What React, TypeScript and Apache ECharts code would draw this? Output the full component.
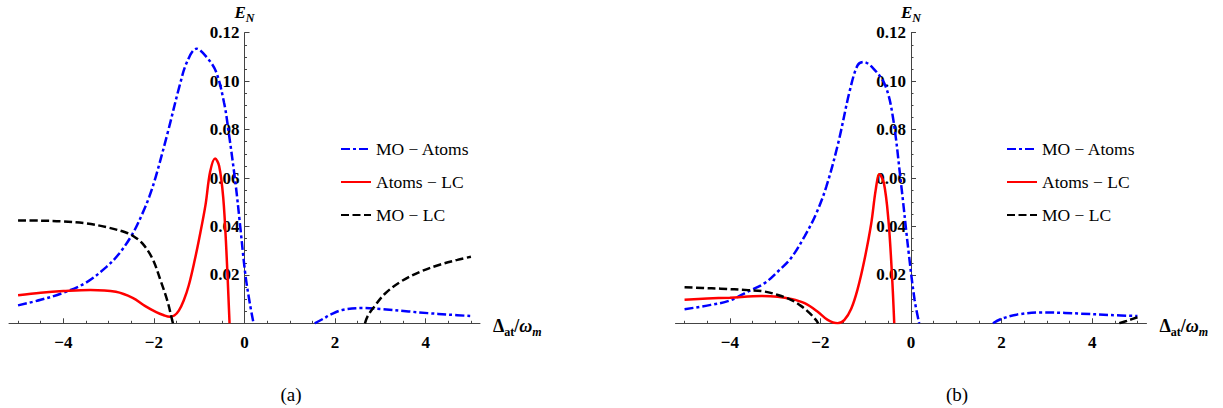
import React, { useEffect, useRef } from "react";
import * as echarts from "echarts";

// ---- tick values ----
const xMajorTicks = [-4, -2, 0, 2, 4];
const xMinorTicks = [-5, -4.5, -3.5, -3, -2.5, -1.5, -1, -0.5, 0.5, 1, 1.5, 2.5, 3, 3.5, 4.5, 5];
const yMin = 0;
const yMax = 0.12;
const yStep = 0.02;

// ---- legend names ----
const seriesNames = ["MO \u2212 Atoms", "Atoms \u2212 LC", "MO \u2212 LC"];

// ---- panel (a) data: [Δat/ωm, E_N] ----
const aMoAtomsLeft = [
  [-5, 0.0074], [-4.5, 0.0097], [-4.0, 0.0126], [-3.5, 0.0168], [-3.06, 0.0231], [-2.77, 0.0287],
  [-2.47, 0.037], [-2.25, 0.0455], [-2.1, 0.0524], [-1.96, 0.0605], [-1.7, 0.0784], [-1.44, 0.0976],
  [-1.27, 0.1079], [-1.06, 0.1134], [-0.84, 0.110], [-0.63, 0.104], [-0.45, 0.091], [-0.35, 0.079],
  [-0.2, 0.058], [-0.1, 0.041], [0.02, 0.02], [0.12, 0.008], [0.2, 0],
];
const aMoAtomsRight = [
  [1.55, 0], [1.75, 0.002], [1.9, 0.0036], [2.16, 0.0055], [2.59, 0.0063], [3.02, 0.0059],
  [3.62, 0.0049], [4.05, 0.0042], [4.5, 0.0036], [5.0, 0.003],
];
const aAtomsLc = [
  [-5, 0.0116], [-4.5, 0.0126], [-4.0, 0.0133], [-3.4, 0.0138], [-2.84, 0.013], [-2.47, 0.0105],
  [-2.2, 0.0072], [-1.95, 0.0046], [-1.78, 0.0033], [-1.65, 0.0027], [-1.55, 0.0032], [-1.45, 0.0052],
  [-1.34, 0.0095], [-1.23, 0.0157], [-1.1, 0.026], [-1.0, 0.035], [-0.86, 0.049], [-0.76, 0.0625],
  [-0.65, 0.0681], [-0.56, 0.065], [-0.47, 0.052], [-0.4, 0.03], [-0.33, 0],
];
const aMoLcLeft = [
  [-5, 0.0425], [-4.5, 0.0424], [-4.0, 0.0421], [-3.5, 0.0413], [-3.0, 0.0395], [-2.62, 0.0375],
  [-2.47, 0.0362], [-2.25, 0.0329], [-2.03, 0.0266], [-1.85, 0.0175], [-1.7, 0.0091], [-1.6, 0.0015],
  [-1.58, 0],
];
const aMoLcRight = [
  [2.66, 0], [2.72, 0.003], [2.85, 0.0065], [3.1, 0.0122], [3.45, 0.0172], [3.88, 0.0213],
  [4.31, 0.0242], [4.7, 0.0262], [5.0, 0.0275],
];

// ---- panel (b) data ----
const bMoAtomsLeft = [
  [-5, 0.0058], [-4.42, 0.0076], [-4.0, 0.0094], [-3.6, 0.0131], [-3.23, 0.0166], [-2.94, 0.0214],
  [-2.65, 0.0269], [-2.35, 0.0359], [-2.1, 0.045], [-1.87, 0.0564], [-1.61, 0.0742], [-1.35, 0.0962],
  [-1.18, 0.1065], [-1.05, 0.1079], [-0.83, 0.1052], [-0.57, 0.0983], [-0.4, 0.0852], [-0.22, 0.0577],
  [-0.05, 0.0289], [0.08, 0.0096], [0.18, 0],
];
const bMoAtomsRight = [
  [1.81, 0], [2.02, 0.002], [2.37, 0.0037], [2.89, 0.0045], [3.4, 0.0043], [3.75, 0.004],
  [4.4, 0.0034], [5.0, 0.003],
];
const bAtomsLc = [
  [-5, 0.0097], [-4.5, 0.0102], [-4.0, 0.0106], [-3.3, 0.0113], [-2.94, 0.011], [-2.65, 0.0101],
  [-2.35, 0.0083], [-2.06, 0.0048], [-1.84, 0.0014], [-1.62, 0.0], [-1.47, 0.0014], [-1.32, 0.006],
  [-1.18, 0.014], [-1.03, 0.026], [-0.88, 0.041], [-0.78, 0.055], [-0.7, 0.0615], [-0.6, 0.058],
  [-0.5, 0.043], [-0.42, 0.02], [-0.37, 0],
];
const bMoLcLeft = [
  [-5, 0.0149], [-4.6, 0.0146], [-4.2, 0.0143], [-3.6, 0.0137], [-3.23, 0.0131], [-2.94, 0.0117],
  [-2.65, 0.0097], [-2.43, 0.0072], [-2.25, 0.0044], [-2.1, 0.0014], [-2.05, 0],
];
const bMoLcRight = [[4.6, 0], [4.8, 0.0012], [5.0, 0.0025]];

const FONT = "Liberation Serif";
const AXIS = "#444";
const X_MIN = -5.2;
const X_MAX = 5.2;
const GRID_W = 471;

function joinSegments(...segs: number[][][]) {
  const out: any[] = [];
  segs.forEach((s, i) => {
    if (i > 0) out.push([s[0][0], "-"]);
    s.forEach((p) => out.push(p));
  });
  return out;
}

const panels = [
  {
    left: 9, caption: "(a)", captionX: 291, legendLeft: 335,
    data: [joinSegments(aMoAtomsLeft, aMoAtomsRight), aAtomsLc, joinSegments(aMoLcLeft, aMoLcRight)],
  },
  {
    left: 675.5, caption: "(b)", captionX: 957, legendLeft: 1001,
    data: [joinSegments(bMoAtomsLeft, bMoAtomsRight), bAtomsLc, joinSegments(bMoLcLeft, bMoLcRight)],
  },
];

const styles = [
  { color: "#0000ff", type: [9, 3, 3, 3] as any },
  { color: "#ff0000", type: "solid" as any },
  { color: "#000000", type: [8, 3.5] as any },
];

const fmtX = (v: number) => (v < 0 ? "\u2212" + Math.abs(v) : String(v));
const fmtY = (v: number) => (v === 0 ? "" : v.toFixed(2));

export default function App() {
  const ref = useRef<HTMLDivElement>(null);
  useEffect(() => {
    if (!ref.current) return;
    const chart = echarts.init(ref.current, undefined, { renderer: "svg" });
    const grid: any[] = [];
    const xAxis: any[] = [];
    const yAxis: any[] = [];
    const series: any[] = [];
    const legend: any[] = [];
    const graphic: any[] = [];
    const zeroOffset = ((0 - X_MIN) / (X_MAX - X_MIN)) * GRID_W;

    panels.forEach((p, i) => {
      grid.push({
        left: p.left, top: 32.7, width: GRID_W, height: 290.6,
        containLabel: false, outerBoundsMode: "none",
      });
      xAxis.push({
        type: "value", gridIndex: i, min: X_MIN, max: X_MAX, position: "bottom",
        axisLine: { onZero: false, lineStyle: { color: AXIS, width: 1 } },
        axisTick: { inside: true, length: 5, customValues: xMajorTicks, lineStyle: { color: AXIS } },
        axisLabel: {
          customValues: xMajorTicks, formatter: fmtX, margin: 11,
          fontFamily: FONT, fontWeight: "bold", fontSize: 17, color: "#000",
        },
        splitLine: { show: false },
        name: "{d|\u0394}{s|at}{d|/}{w|\u03c9}{ws|m}",
        nameLocation: "end", nameGap: 13,
        nameTextStyle: {
          padding: [6, 0, 0, 0],
          rich: {
            d: { fontFamily: FONT, fontWeight: "bold", fontSize: 18, lineHeight: 24, color: "#000" },
            s: { fontFamily: FONT, fontWeight: "bold", fontSize: 12, lineHeight: 12, verticalAlign: "bottom", color: "#000" },
            w: { fontFamily: FONT, fontWeight: "bold", fontStyle: "italic", fontSize: 18, lineHeight: 24, color: "#000" },
            ws: { fontFamily: FONT, fontWeight: "bold", fontStyle: "italic", fontSize: 12, lineHeight: 12, verticalAlign: "bottom", color: "#000" },
          },
        },
      });
      xAxis.push({
        type: "value", gridIndex: i, min: X_MIN, max: X_MAX, position: "bottom",
        axisLine: { show: false, onZero: false },
        axisTick: { inside: true, length: 2.5, customValues: xMinorTicks, lineStyle: { color: AXIS } },
        axisLabel: { show: false },
        splitLine: { show: false },
      });
      yAxis.push({
        type: "value", gridIndex: i, min: yMin, max: yMax, interval: yStep,
        position: "left", offset: -zeroOffset,
        axisLine: { show: true, onZero: false, lineStyle: { color: AXIS, width: 1 } },
        axisTick: { show: true, inside: true, length: 5, lineStyle: { color: AXIS } },
        minorTick: { show: true, splitNumber: 4, length: 2.5, lineStyle: { color: AXIS } },
        axisLabel: {
          formatter: fmtY, margin: 5,
          fontFamily: FONT, fontWeight: "bold", fontSize: 17, color: "#000",
        },
        splitLine: { show: false },
        name: "{e|E}{n|N}", nameLocation: "end", nameGap: 6,
        nameTextStyle: {
          rich: {
            e: { fontFamily: FONT, fontWeight: "bold", fontStyle: "italic", fontSize: 17, lineHeight: 24, color: "#000" },
            n: { fontFamily: FONT, fontWeight: "bold", fontStyle: "italic", fontSize: 12, lineHeight: 12, verticalAlign: "bottom", color: "#000" },
          },
        },
      });
      p.data.forEach((d, k) => {
        series.push({
          type: "line", name: seriesNames[k], xAxisIndex: i * 2, yAxisIndex: i,
          data: d, symbol: "none", showSymbol: false, smooth: 0.35,
          connectNulls: false, clip: true,
          lineStyle: { color: styles[k].color, width: 2.5, type: styles[k].type, cap: "butt" },
          itemStyle: { color: styles[k].color },
          z: 3 + k,
        });
      });
      legend.push({
        data: seriesNames, left: p.legendLeft, top: 134, orient: "vertical",
        itemWidth: 30, itemHeight: 14, itemGap: 13, selectedMode: false,
        itemStyle: { opacity: 0 },
        textStyle: { fontFamily: FONT, fontSize: 17.5, color: "#000", lineHeight: 20 },
      });
      graphic.push({
        type: "text", x: p.captionX, y: 394,
        style: {
          text: p.caption, fontFamily: FONT, fontSize: 19, fill: "#000",
          align: "center", verticalAlign: "middle",
        },
      });
    });

    chart.setOption({
      animation: false,
      backgroundColor: "#fff",
      textStyle: { fontFamily: FONT },
      grid, xAxis, yAxis, series, legend, graphic,
    });
    return () => chart.dispose();
  }, []);
  return (
    <div
      ref={ref}
      style={{ position: "fixed", left: 0, top: 0, width: 1223, height: 408 }}
    />
  );
}
